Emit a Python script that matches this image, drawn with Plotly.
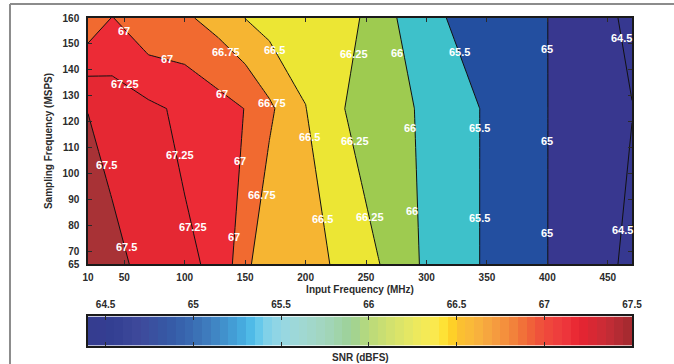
import numpy as np
import plotly.graph_objects as go

# data: SNR (dBFS) on an input-frequency x sampling-frequency grid
freq_mhz = [20, 40, 70, 100, 128, 150, 170, 200, 230, 260, 300, 350, 400, 470]
fs_msps = [65, 125, 160]
snr_fs65 = [67.65, 67.58, 67.41, 67.29, 67.205, 66.81, 66.58, 66.532, 66.484, 66.261, 65.91, 65.444, 65.003, 64.40]
snr_fs125 = [67.495, 67.386, 67.30, 67.20, 67.091, 66.995, 66.794, 66.505, 66.269, 66.03, 65.98, 65.435, 65.003, 64.51]
snr_fs160 = [66.81, 67.01, 66.795, 66.79, 66.654, 66.497, 66.401, 66.40, 66.40, 66.096, 65.696, 65.10, 65.003, 64.40]

x_tickvals = [20, 50, 100, 150, 200, 250, 300, 350, 400, 450]
x_ticktext = ['10', '50', '100', '150', '200', '250', '300', '350', '400', '450']
y_tickvals = [65, 70, 80, 90, 100, 110, 120, 130, 140, 150, 160]
cbar_tickvals = [64.5, 65, 65.5, 66, 66.5, 67, 67.5]

# contour levels are not evenly spaced (0.5 dB below 66, 0.25 dB above)
levels = [64.5, 65, 65.5, 66, 66.25, 66.5, 66.75, 67, 67.25, 67.5]

# contour labels as in the original: (freq, fs, level)
label_freq = [50, 85, 134, 174, 51, 131, 172, 203, 96, 146, 35, 164, 107, 214, 141, 52,
              240, 276, 327, 400, 461, 286, 344, 241, 400, 253, 288, 344, 400, 462]
label_fs = [155, 144, 147, 147.5, 134.5, 130.7, 127.2, 114, 107.2, 104.8, 103.2, 91.5, 79.3, 82.4, 75.4, 71.6,
            146, 146.5, 147, 148, 152.3, 117.5, 117.5, 112.5, 112.5, 83.2, 85.6, 82.8, 77, 78.3]
label_level = [67, 67, 66.75, 66.5, 67.25, 67, 66.75, 66.5, 67.25, 67, 67.5, 66.75, 67.25, 66.5, 67, 67.5,
               66.25, 66, 65.5, 65, 64.5, 66, 65.5, 66.25, 65, 66.25, 66, 65.5, 65, 64.5]

band_colors = ['#363890', '#38378f', '#234fa0', '#3ec1ca', '#9ecb50', '#ece634',
               '#f6b532', '#f16a30', '#ec2b36', '#e52833', '#a83236']

cbar_scale = [(64.4, '#363c90'), (64.55, '#333f92'), (64.7, '#3f4a9c'), (64.85, '#3558a5'),
              (65.0, '#3a6db3'), (65.1, '#3f80c0'), (65.2, '#4297d0'), (65.3, '#47b1e3'),
              (65.35, '#57c3ec'), (65.42, '#80d1e8'), (65.5, '#96d7e3'), (65.6, '#a0d8d6'),
              (65.75, '#a2d6bd'), (65.9, '#9dd196'), (66.0, '#b9da7a'), (66.1, '#cde070'),
              (66.2, '#e0e667'), (66.3, '#f1ea5a'), (66.4, '#fde84a'), (66.45, '#ffdc22'),
              (66.5, '#fcc32e'), (66.6, '#f9b73c'), (66.7, '#f5a040'), (66.8, '#f38a3c'),
              (66.9, '#f06838'), (67.0, '#ef4b3c'), (67.1, '#ee3a3e'), (67.2, '#e82431'),
              (67.35, '#c72c36'), (67.5, '#a0292f')]

FONT = 'Liberation Sans, Arial, sans-serif'
INK = '#2b2b2b'

z = np.array([snr_fs65, snr_fs125, snr_fs160])

# map levels onto an even index so one filled contour can do the bands
idx = np.interp(z, levels, np.arange(len(levels)))
idx = np.where(z < levels[0], (z - levels[0]) / 0.5, idx)
idx = np.where(z > levels[-1], len(levels) - 1 + (z - levels[-1]) / 0.25, idx)

nb = len(band_colors) - 1
fill_scale = [[k / nb, c] for k, c in enumerate(band_colors)]

fig = go.Figure()

fig.add_trace(go.Contour(
    x=freq_mhz, y=fs_msps, z=idx,
    contours=dict(start=0, end=len(levels) - 1, size=1, coloring='fill'),
    colorscale=fill_scale, showscale=False,
    line=dict(color='#111111', width=1, smoothing=0),
    hoverinfo='skip'
))

# colour bar drawn as a stepped strip on its own axes
lo, hi = cbar_scale[0][0], cbar_scale[-1][0]
edges = np.arange(lo, hi + 1e-9, 0.05)
centers = (edges[:-1] + edges[1:]) / 2
cscale = [[(v - lo) / (hi - lo), c] for v, c in cbar_scale]
fig.add_trace(go.Heatmap(
    x=edges, y=[0, 1], z=[centers], zmin=lo, zmax=hi,
    colorscale=cscale, showscale=False, hoverinfo='skip',
    xaxis='x2', yaxis='y2'
))

tick_font = dict(family=FONT, size=10, color=INK, weight='bold')
label_font = dict(family=FONT, size=11, color='white', weight='bold')

annotations = [dict(text=f'{lv:g}', x=fx, y=fy, xref='x', yref='y', showarrow=False,
                    font=label_font)
               for fx, fy, lv in zip(label_freq, label_fs, label_level)]
annotations.append(dict(
    text='SNR (dBFS)', x=0.5, y=-0.034, xref='paper', yref='paper',
    showarrow=False, font=tick_font, yanchor='middle'
))

fig.update_layout(
    width=674, height=364,
    margin=dict(l=88, r=42, t=18, b=18),
    paper_bgcolor='white', plot_bgcolor='white',
    showlegend=False,
    font=dict(family=FONT, color=INK),
    xaxis=dict(
        domain=[0, 1], anchor='y', range=[20, 470],
        tickvals=x_tickvals, ticktext=x_ticktext,
        ticks='inside', ticklen=4, tickcolor=INK,
        showline=True, linecolor='#1a1a1a', linewidth=1.5, mirror='ticks',
        showgrid=False, zeroline=False, tickfont=tick_font,
        ticklabelstandoff=3,
        title=dict(text='Input Frequency (MHz)', font=tick_font, standoff=4)
    ),
    yaxis=dict(
        domain=[0.25, 1], anchor='x', range=[65, 160],
        tickvals=y_tickvals,
        ticks='inside', ticklen=4, tickcolor=INK,
        showline=True, linecolor='#1a1a1a', linewidth=1.5, mirror='ticks',
        showgrid=False, zeroline=False, tickfont=tick_font,
        ticklabelstandoff=5,
        title=dict(text='Sampling Frequency (MSPS)', font=tick_font, standoff=8)
    ),
    xaxis2=dict(
        domain=[0, 1], anchor='y2', range=[lo, hi], side='top',
        tickvals=cbar_tickvals, ticks='inside', ticklen=4, tickcolor=INK,
        showline=True, linecolor='#1a1a1a', linewidth=1.5, mirror='ticks',
        showgrid=False, zeroline=False, tickfont=tick_font,
        ticklabelstandoff=3
    ),
    yaxis2=dict(
        domain=[0.001, 0.09], anchor='x2', range=[0, 1],
        showticklabels=False, ticks='', showgrid=False, zeroline=False,
        showline=True, linecolor='#1a1a1a', linewidth=1.5, mirror=True
    ),
    annotations=annotations,
    shapes=[
        dict(type='line', xref='paper', yref='paper', x0=-0.1434, x1=-0.1434,
             y0=-0.2, y1=1.0427, line=dict(color='#8c8c8c', width=2)),
        dict(type='line', xref='paper', yref='paper', x0=-0.1434, x1=1.2,
             y0=1.0427, y1=1.0427, line=dict(color='#8c8c8c', width=2)),
    ]
)

fig.write_html('out.html', config={'displayModeBar': False},
               post_script="document.body.style.margin='0';")
